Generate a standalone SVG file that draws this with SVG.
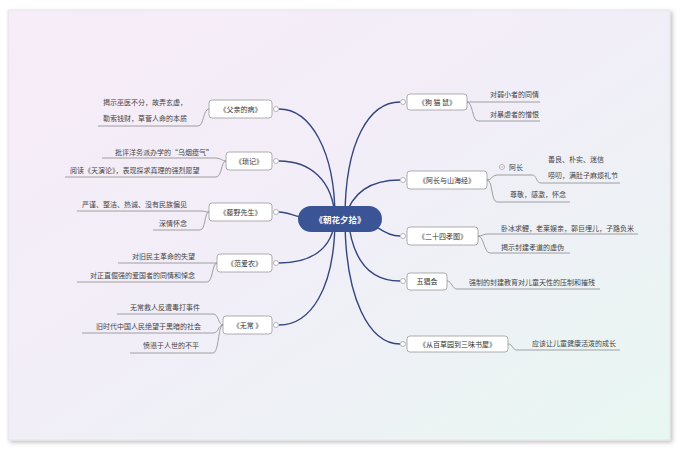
<svg xmlns="http://www.w3.org/2000/svg" width="680" height="450" viewBox="0 0 680 450">
<defs>
<linearGradient id="bg" x1="0" y1="0" x2="1" y2="1">
<stop offset="0" stop-color="#f7ecf7"/>
<stop offset="0.5" stop-color="#f1eef8"/>
<stop offset="1" stop-color="#e8f7f1"/>
</linearGradient>
<filter id="sh" x="-5%" y="-5%" width="110%" height="110%">
<feDropShadow dx="2" dy="2" stdDeviation="2" flood-color="#000" flood-opacity="0.25"/>
</filter>
</defs>
<style>
text{font-family:"Noto Sans CJK SC","Noto Sans",sans-serif;font-size:7px;fill:#444}
.box{fill:#fff;stroke:#9a9a9a;stroke-width:0.8}
.bt{text-anchor:middle;fill:#333}
.leaf{fill:none;stroke:#8a8a8a;stroke-width:0.8}
.main{fill:none;stroke:#34457f;stroke-width:1.4}
.dot{fill:#fff;stroke:#999;stroke-width:0.7}
</style>
<rect x="0" y="0" width="680" height="450" fill="#fff"/>
<rect x="8" y="10" width="662" height="430" fill="url(#bg)" stroke="#e2e2e6" stroke-width="0.8" filter="url(#sh)"/>

<g id="connectors">
<path class="main" d="M335 218 C335 150 310 109 279 109"/>
<path class="main" d="M335 218 C333 180 310 161 279 161"/>
<path class="main" d="M310 218 C295 218 290 212 279 212"/>
<path class="main" d="M335 218 C333 250 310 263 279 263"/>
<path class="main" d="M335 218 C335 290 310 325 279 325"/>
<path class="main" d="M345 218 C345 140 370 102 400 102"/>
<path class="main" d="M345 218 C352 192 372 180 400 180"/>
<path class="main" d="M360 220 C380 226 385 236 400 236"/>
<path class="main" d="M348 218 C352 260 370 281 400 281"/>
<path class="main" d="M345 218 C345 300 370 344 400 344"/>
</g>

<g id="root">
<rect x="298" y="206" width="84" height="26" rx="13" fill="#3a5495"/>
<text x="340" y="222.5" text-anchor="middle" style="font-size:8.5px;font-weight:bold;fill:#fff">《朝花夕拾》</text>
</g>

<g id="node-fuqin">
<rect class="box" x="209" y="100" width="63" height="18" rx="3"/>
<text class="bt" x="240.5" y="111.5">《父亲的病》</text>
<circle class="dot" cx="276" cy="109" r="2.5"/>
<path class="leaf" d="M98 126 H198 C204 126 203 109 209 109"/>
<text x="103" y="104.5">揭示巫医不分，故弄玄虚，</text>
<text x="103" y="120.5">勒索钱财，草菅人命的本质</text>
</g>

<g id="node-suoji">
<rect class="box" x="226" y="152" width="46" height="18" rx="3"/>
<text class="bt" x="249" y="163.5">《琐记》</text>
<circle class="dot" cx="276" cy="161" r="2.5"/>
<path class="leaf" d="M102 158 H216 C221 158 222 161 226 161"/>
<path class="leaf" d="M65 177 H216 C222 177 221 161 226 161"/>
<text x="115" y="154.5">批评洋务派办学的“乌烟瘴气”</text>
<text x="70" y="172.5">阅读《天演论》，表现探求真理的强烈愿望</text>
</g>

<g id="node-tengye">
<rect class="box" x="209" y="203" width="63" height="18" rx="3"/>
<text class="bt" x="240.5" y="214.5">《藤野先生》</text>
<circle class="dot" cx="276" cy="212" r="2.5"/>
<path class="leaf" d="M77 211 H200 C205 211 205 212 209 212"/>
<path class="leaf" d="M153 230 H200 C206 230 204 212 209 212"/>
<text x="82" y="206.5">严谨、整洁、热诚、没有民族偏见</text>
<text x="159" y="225.5">深情怀念</text>
</g>

<g id="node-fanainong">
<rect class="box" x="217" y="254" width="55" height="18" rx="3"/>
<text class="bt" x="244.5" y="265.5">《范爱农》</text>
<circle class="dot" cx="276" cy="263" r="2.5"/>
<path class="leaf" d="M118 263 H217"/>
<path class="leaf" d="M77 282 H207 C213 282 212 263 217 263"/>
<text x="132" y="258.5">对旧民主革命的失望</text>
<text x="90" y="277.5">对正直倔强的爱国者的同情和悼念</text>
</g>

<g id="node-wuchang">
<rect class="box" x="223" y="316" width="49" height="18" rx="3"/>
<text class="bt" x="247.5" y="327.5">《无常 》</text>
<circle class="dot" cx="276" cy="325" r="2.5"/>
<path class="leaf" d="M117 314 H213 C219 314 218 325 223 325"/>
<path class="leaf" d="M82 333 H213 C219 333 218 325 223 325"/>
<path class="leaf" d="M130 353 H213 C219 353 218 325 223 325"/>
<text x="130" y="309.5">无常救人反遭毒打事件</text>
<text x="96" y="328.5">旧时代中国人民绝望于黑暗的社会</text>
<text x="143" y="347.5">愤懑于人世的不平</text>
</g>

<g id="node-goumaoshu">
<rect class="box" x="407" y="94" width="60" height="16" rx="3"/>
<text class="bt" x="437" y="104.5">《狗 猫 鼠》</text>
<circle class="dot" cx="403" cy="102" r="2.5"/>
<path class="leaf" d="M467 102 H540"/>
<path class="leaf" d="M467 102 C473 102 472 121 478 121 H540"/>
<text x="490" y="96.5">对弱小者的同情</text>
<text x="490" y="116.5">对暴虐者的憎恨</text>
</g>

<g id="node-achang">
<rect class="box" x="407" y="171" width="80" height="18" rx="3"/>
<text class="bt" x="447" y="182.5">《阿长与山海经》</text>
<circle class="dot" cx="403" cy="180" r="2.5"/>
<path class="leaf" d="M487 180 C492 180 492 175 497 175 H532 C537 175 536 183 541 183 H620"/>
<path class="leaf" d="M487 180 C493 180 491 202 497 202 H570"/>
<circle class="dot" cx="502" cy="167" r="2.5"/>
<line x1="500.5" y1="167" x2="503.5" y2="167" stroke="#999" stroke-width="0.7"/>
<text x="509" y="169.5">阿长</text>
<text x="548" y="161.5">善良、朴实、迷信</text>
<text x="548" y="177.5">唠叨，满肚子麻烦礼节</text>
<text x="510" y="196.5">尊敬，感激，怀念</text>
</g>

<g id="node-ershisi">
<rect class="box" x="407" y="227" width="71" height="18" rx="3"/>
<text class="bt" x="442.5" y="238.5">《二十四孝图》</text>
<circle class="dot" cx="403" cy="236" r="2.5"/>
<path class="leaf" d="M478 236 C483 236 483 234 488 234 H638"/>
<path class="leaf" d="M478 236 C484 236 484 253 490 253 H570"/>
<text x="501" y="230.5">卧冰求鲤，老莱娱亲，郭巨埋儿，子路负米</text>
<text x="501" y="249.5">揭示封建孝道的虚伪</text>
</g>

<g id="node-wuchanghui">
<rect class="box" x="407" y="273" width="40" height="17" rx="3"/>
<text class="bt" x="427" y="284">五猖会</text>
<circle class="dot" cx="403" cy="281" r="2.5"/>
<path class="leaf" d="M447 281 C452 281 452 289 457 289 H600"/>
<text x="469" y="284.5">强制的封建教育对儿童天性的压制和摧残</text>
</g>

<g id="node-baicaoyuan">
<rect class="box" x="407" y="336" width="101" height="16" rx="3"/>
<text class="bt" x="457.5" y="346.5">《从百草园到三味书屋》</text>
<circle class="dot" cx="403" cy="344" r="2.5"/>
<path class="leaf" d="M508 344 C513 344 512 350 517 350 H620"/>
<text x="532" y="345.5">应该让儿童健康活泼的成长</text>
</g>
</svg>
